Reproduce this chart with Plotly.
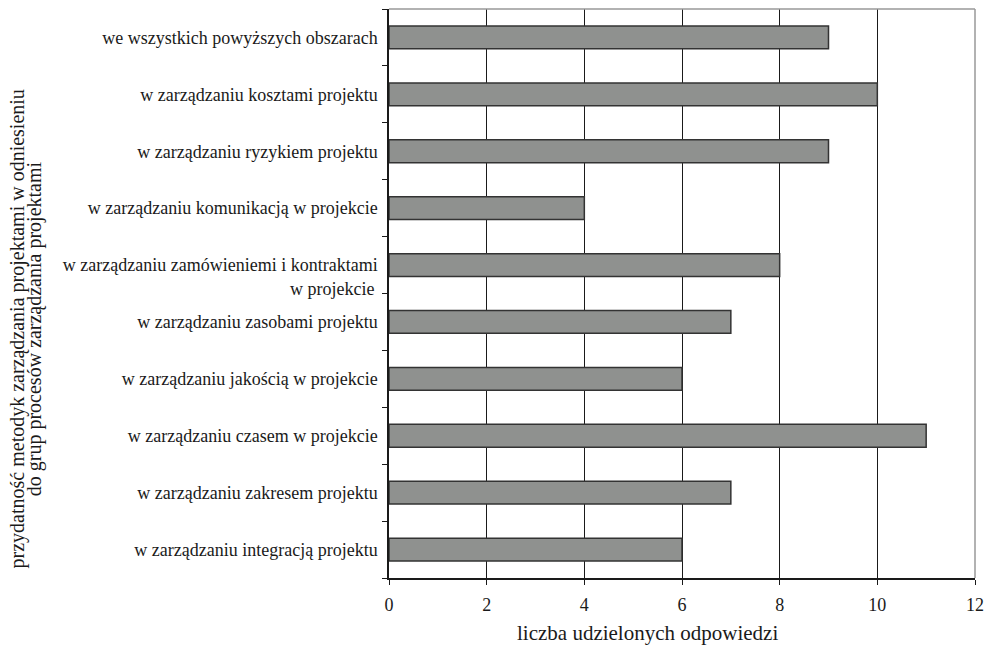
import plotly.graph_objects as go

# Process groups (bottom to top) and number of responses
categories = [
    "w zarządzaniu integracją projektu",
    "w zarządzaniu zakresem projektu",
    "w zarządzaniu czasem w projekcie",
    "w zarządzaniu jakością w projekcie",
    "w zarządzaniu zasobami projektu",
    "w zarządzaniu zamówieniemi i kontraktami<br>w projekcie",
    "w zarządzaniu komunikacją w projekcie",
    "w zarządzaniu ryzykiem projektu",
    "w zarządzaniu kosztami projektu",
    "we wszystkich powyższych obszarach",
]
responses = [6, 7, 11, 6, 7, 8, 4, 9, 10, 9]
x_ticks = [0, 2, 4, 6, 8, 10, 12]
y_title_lines = [
    "przydatność metodyk zarządzania projektami w odniesieniu",
    "do grup procesów zarządzania projektami",
]
x_title = "liczba udzielonych odpowiedzi"

FONT = "Liberation Serif"
INK = "#1a1a1a"
SIZE = 18

W, H = 993, 646
ML, MR, MT, MB = 389, 11, 9, 68
PW, PH = W - ML - MR, H - MT - MB


def px_x(px):
    """Pixel column -> paper x."""
    return (px - ML) / PW


def px_y(py):
    """Pixel row -> paper y."""
    return (H - MB - py) / PH


# First line of each label sits on the tick; continuation lines hang below it
first_lines = [c.split("<br>")[0] for c in categories]

fig = go.Figure(
    go.Bar(
        x=responses,
        y=categories,
        orientation="h",
        marker=dict(color="#8f918f", line=dict(color="#333333", width=1.5)),
        width=0.4,
    )
)

annotations = []
for cat in categories:
    rest = cat.split("<br>")[1:]
    for i, line in enumerate(rest):
        annotations.append(dict(
            x=0, xref="x domain", y=cat, yref="y",
            text=line, showarrow=False, xanchor="right", yanchor="middle",
            xshift=-13, yshift=-24 * (i + 1),
            font=dict(family=FONT, size=SIZE, color=INK),
        ))

# Rotated two-line y title, each line placed on its own
for line, cx in zip(y_title_lines, [14, 31]):
    annotations.append(dict(
        x=px_x(cx), xref="paper", y=px_y(329), yref="paper",
        text=line, textangle=-90, showarrow=False,
        xanchor="center", yanchor="middle",
        font=dict(family=FONT, size=20, color=INK),
    ))

annotations.append(dict(
    x=px_x(517), xref="paper", y=px_y(633), yref="paper",
    text=x_title, showarrow=False, xanchor="left", yanchor="middle",
    font=dict(family=FONT, size=21, color=INK),
))

fig.update_layout(
    width=W,
    height=H,
    margin=dict(l=ML, r=MR, t=MT, b=MB),
    paper_bgcolor="white",
    plot_bgcolor="white",
    font=dict(family=FONT, size=SIZE, color=INK),
    showlegend=False,
    xaxis=dict(
        range=[0, 12],
        tickvals=x_ticks,
        ticks="outside",
        ticklen=5,
        tickcolor=INK,
        tickfont=dict(family=FONT, size=SIZE, color=INK),
        ticklabelstandoff=5,
        showgrid=True,
        gridcolor=INK,
        gridwidth=1,
        showline=True,
        linecolor=INK,
        linewidth=1.5,
        zeroline=False,
    ),
    yaxis=dict(
        type="category",
        categoryorder="array",
        categoryarray=categories,
        tickvals=categories,
        ticktext=first_lines,
        tickson="boundaries",
        ticks="outside",
        ticklen=5,
        tickcolor=INK,
        tickfont=dict(family=FONT, size=SIZE, color=INK),
        showline=True,
        linecolor=INK,
        linewidth=1.5,
        showgrid=False,
        ticklabelstandoff=6,
    ),
    annotations=annotations,
    shapes=[
        dict(type="line", xref="x domain", yref="y domain", x0=0, x1=1, y0=1, y1=1,
             line=dict(color="#999999", width=1.5)),
        dict(type="line", xref="x domain", yref="y domain", x0=1, x1=1, y0=0, y1=1,
             line=dict(color="#999999", width=1.5)),
    ],
)

fig.write_html("out.html")
